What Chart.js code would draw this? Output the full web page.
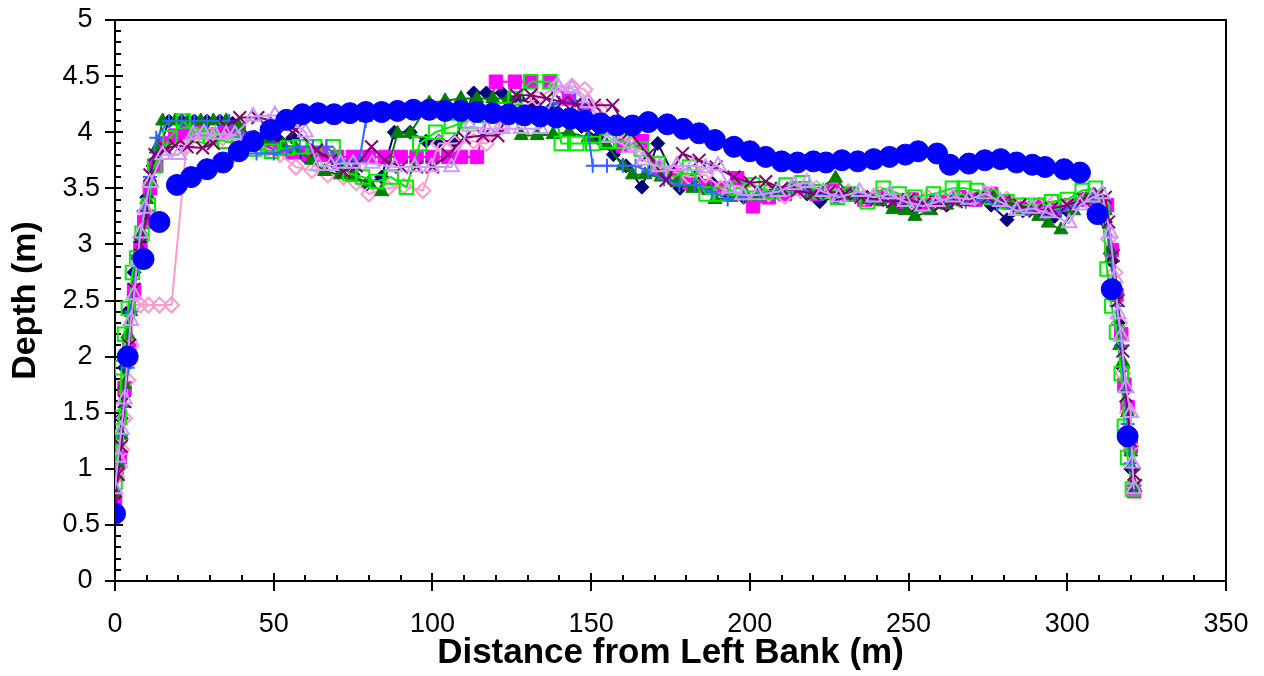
<!DOCTYPE html>
<html>
<head>
<meta charset="utf-8">
<title>Cross-section depth profiles</title>
<script src="https://cdn.jsdelivr.net/npm/chart.js@4.4.1/dist/chart.umd.min.js"></script>
<style>
  html, body { margin: 0; padding: 0; background: #fff; }
  #wrap { width: 1264px; height: 676px; position: relative; }
</style>
</head>
<body>
<div id="wrap"><canvas id="chart" width="1264" height="676"></canvas></div>
<script>
// Depth soundings across the channel: [distance from left bank (m), depth (m)]
const transect1 = [
  [0,0.75],[1,1.05],[2,1.45],[3,1.9],[4,2.4],[6,2.75],[8,3.02],[10,3.42],[12,3.7],[14,3.86],
  [17,4.1],[21,4.1],[25,4.1],[29,4.1],[33,4.1],[37,4.08],[42,3.92],[47,3.95],[52,3.92],[56,3.95],
  [60,3.78],[65,3.82],[70,3.7],[75,3.62],[79,3.53],[84,3.6],[88,4.0],[93,4.0],[98,3.92],[102,3.92],
  [107,3.92],[113,4.35],[117,4.35],[122,4.35],[127,4.3],[132,4.25],[137,4.2],[142,4.15],[147,4.05],[152,3.95],
  [157,3.8],[161,3.7],[166,3.51],[171,3.9],[178,3.5],[183,3.6],[188,3.55],[193,3.45],[198,3.42],[203,3.45],
  [208,3.48],[213,3.5],[218,3.45],[222,3.38],[227,3.42],[232,3.45],[237,3.42],[242,3.4],[247,3.35],[252,3.32],
  [257,3.38],[262,3.35],[266,3.42],[271,3.4],[276,3.35],[281,3.22],[286,3.3],[291,3.28],[296,3.25],[300,3.3],
  [305,3.4],[310,3.42],[312,3.2],[314,2.85],[316,2.3],[317.5,1.9],[319,1.5],[320,1.0],[321,0.82]
];
const transect2 = [
  [0,0.72],[0.5,0.95],[1.5,1.1],[3,1.72],[4.5,2.1],[6,2.59],[8,2.95],[9.2,3.2],[11,3.5],[13,3.7],
  [15,3.9],[19,3.97],[23,4.0],[27,4.0],[31,3.98],[35,4.0],[39,4.02],[44,3.9],[48,3.88],[52,3.85],
  [56,3.82],[61,3.8],[65,3.8],[70,3.78],[75,3.78],[80,3.78],[85,3.78],[90,3.78],[95,3.78],[100,3.78],
  [105,3.78],[109,3.78],[114,3.78],[120,4.45],[126,4.45],[131,4.45],[137,4.45],[143,4.3],[148,4.2],[154,4.05],
  [160,3.88],[166,3.92],[171,3.68],[176,3.62],[181,3.55],[186,3.52],[191,3.5],[196,3.59],[201,3.34],[206,3.42],
  [211,3.45],[216,3.5],[221,3.45],[226,3.48],[231,3.45],[236,3.4],[241,3.42],[246,3.38],[251,3.4],[256,3.35],
  [261,3.38],[266,3.42],[271,3.4],[276,3.45],[281,3.38],[286,3.32],[291,3.35],[296,3.32],[301,3.35],[306,3.4],
  [310,3.38],[312.5,3.35],[314,2.95],[315.5,2.55],[317,2.2],[318,1.75],[319,1.55],[320,1.2],[321,0.8]
];
const transect3 = [
  [0.5,0.93],[1.5,1.02],[2.1,1.17],[3,1.45],[4,1.79],[5,2.1],[6,2.46],[8,2.46],[10.5,2.46],[14,2.46],
  [17.8,2.46],[22.5,3.87],[25.7,3.97],[30,3.97],[34,3.95],[38,3.97],[43,3.9],[48,3.85],[52,3.8],[57,3.69],
  [62,3.66],[67,3.62],[72,3.6],[76,3.55],[80,3.45],[86,3.5],[91,3.52],[97,3.48],[102,3.9],[107,3.9],
  [113,3.92],[117,3.9],[122,4.05],[127,4.2],[133,4.3],[139,4.41],[144,4.41],[148,4.38],[153,4.2],[158,4.0],
  [162,3.9],[166,3.81],[171,3.72],[176,3.65],[181,3.6],[186,3.62],[191,3.5],[196,3.45],[201,3.48],[206,3.45],
  [211,3.43],[216,3.48],[221,3.5],[226,3.45],[231,3.47],[236,3.42],[241,3.45],[246,3.4],[251,3.38],[256,3.42],
  [261,3.4],[266,3.4],[271,3.42],[276,3.45],[281,3.4],[286,3.35],[291,3.35],[296,3.38],[301,3.35],[306,3.4],
  [311,3.38],[313,3.05],[315,2.75],[316.5,2.3],[317.5,1.85],[319,1.5],[320,1.2],[321,0.85]
];
const transect4 = [
  [0,0.78],[1,1.05],[2,1.3],[3,1.75],[4,2.2],[5,2.4],[7,2.9],[8.5,3.1],[10,3.4],[11.5,3.55],
  [13,3.85],[15,4.1],[19,4.1],[23,4.1],[27,4.1],[31,4.1],[35,4.1],[39,4.05],[44,3.95],[48,3.92],
  [53,3.88],[57,3.85],[62,3.75],[66,3.65],[71,3.62],[75,3.6],[80,3.55],[84,3.47],[89,3.99],[93,3.99],
  [99,4.26],[104,4.28],[109,4.3],[114,4.3],[119,4.3],[124,4.3],[128,3.97],[133,3.97],[138,3.98],[143,4.0],
  [149,3.95],[155,3.88],[160,3.7],[163,3.62],[167,3.62],[172,3.6],[177,3.55],[182,3.5],[187,3.48],[189,3.4],
  [194,3.42],[199,3.43],[203,3.43],[208,3.47],[213,3.5],[219,3.45],[227,3.59],[232,3.42],[237,3.4],[241,3.38],
  [245,3.31],[249,3.3],[252,3.25],[257,3.3],[262,3.35],[267,3.38],[272,3.42],[277,3.4],[282,3.35],[287,3.3],
  [291,3.25],[294,3.19],[298,3.13],[302,3.3],[306,3.4],[310,3.42],[312,3.3],[313.5,2.95],[315,2.55],[316.5,2.1],
  [317.5,1.95],[319,1.5],[320,1.15],[321,0.82]
];
const transect5 = [
  [0,0.88],[0.5,1.26],[1.4,1.46],[2.1,1.9],[3,2.2],[4.2,2.43],[5.5,2.75],[6.8,2.88],[8.5,3.1],[10.5,3.35],
  [12.5,3.7],[17.3,3.95],[21.5,4.1],[26,3.97],[30,3.96],[34.6,3.92],[39,3.9],[44,3.85],[49.3,3.83],[54.3,3.86],
  [58.2,3.87],[62.9,3.87],[68.7,3.87],[74,3.63],[78,3.6],[82.4,3.56],[87,3.6],[91.8,3.51],[96,3.9],[101,4.0],
  [106,4.05],[111,4.1],[116,4.15],[121,4.2],[126,4.3],[131,4.45],[137,4.45],[140.6,3.9],[145.5,3.9],[150.5,3.9],
  [155,3.92],[160,3.92],[165.8,3.85],[171,3.72],[176.3,3.6],[181,3.69],[186.2,3.45],[191,3.45],[196,3.5],[200.9,3.53],
  [206.7,3.47],[211.4,3.53],[216.6,3.55],[222,3.47],[227.6,3.42],[232,3.45],[237,3.38],[242,3.5],[247,3.45],[252,3.42],
  [257.8,3.45],[263.8,3.5],[267.5,3.5],[271.4,3.48],[276,3.42],[281,3.38],[286,3.35],[291,3.35],[295,3.38],[300,3.4],
  [304.7,3.48],[308.8,3.5],[311,3.3],[312.5,2.78],[314,2.45],[315.5,2.22],[317,1.85],[318,1.38],[319,1.1],[320.5,0.82]
];
const transect6 = [
  [0,0.8],[1,1.05],[2,1.3],[3,1.55],[4,1.9],[5,2.4],[7,2.9],[9,3.3],[11,3.6],[13,3.95],
  [17,4.1],[21,4.1],[25,4.1],[29,4.1],[33,4.1],[36,4.1],[40,3.95],[44.6,3.81],[50,3.81],[54,3.84],
  [58.2,3.87],[62.4,3.87],[66.6,3.87],[71,3.75],[75,3.73],[77,3.75],[79,4.1],[84,4.15],[89,4.18],[94,4.18],
  [99,4.18],[104,4.17],[109,4.16],[114,4.15],[119,4.15],[124,4.15],[129,4.18],[134,4.2],[140,4.26],[145,4.28],
  [148,4.2],[150.5,3.7],[155,3.7],[160,3.7],[164,3.7],[168,3.65],[173,3.58],[177.8,3.53],[182.6,3.53],[188,3.47],
  [193,3.4],[198,3.42],[203,3.45],[208,3.47],[213,3.5],[218,3.48],[223,3.45],[228,3.42],[233,3.45],[238,3.4],
  [243,3.42],[248,3.38],[253,3.35],[258,3.38],[263,3.4],[268,3.38],[273,3.4],[278,3.35],[283,3.32],[288,3.3],
  [293,3.28],[298,3.3],[303,3.35],[308,3.4],[312,3.3],[314,2.9],[315.5,2.45],[317,2.1],[318,1.7],[319,1.4],
  [320,1.05],[321,0.85]
];
const transect7 = [
  [0,0.7],[1,0.95],[2,1.2],[3,1.6],[4.5,2.1],[6,2.6],[8,3.0],[10,3.25],[11,3.62],[12.6,3.8],
  [16,3.85],[19,3.88],[22.7,3.87],[27.6,3.86],[31,3.9],[35,4.05],[39.3,4.13],[45,4.13],[50,4.1],[54,4.05],
  [57,4.02],[63.5,3.84],[68,3.75],[72,3.65],[76,3.7],[80.8,3.87],[85,3.75],[90.2,3.69],[95,3.69],[100,3.69],
  [105,3.8],[110,3.95],[115.9,3.97],[120.6,3.97],[126.4,4.33],[131,4.33],[136,4.3],[141,4.27],[145,4.25],[151,4.24],
  [156.8,4.24],[162,4.0],[168,3.8],[173.6,3.57],[178.8,3.81],[184,3.75],[189.4,3.69],[195,3.6],[200,3.55],[205,3.56],
  [210,3.5],[215,3.48],[220,3.45],[225,3.47],[230,3.45],[235,3.42],[240,3.4],[245,3.38],[250,3.4],[255,3.36],
  [260,3.35],[265,3.38],[270,3.4],[275,3.42],[280,3.38],[285,3.35],[290,3.3],[295,3.32],[300,3.35],[305,3.4],
  [310,3.45],[312,3.42],[313,3.2],[314.5,2.9],[316,2.5],[317.5,2.05],[318.5,1.65],[320,1.25],[321,0.95],[321.5,0.85]
];
const transect8 = [
  [0,0.82],[1,1.1],[2,1.35],[3,1.62],[4,2.0],[5,2.32],[6,2.55],[7,2.85],[8,3.1],[9.5,3.32],
  [11,3.55],[15,3.8],[20,3.8],[24.6,3.98],[28,3.99],[31.5,3.98],[35,3.98],[37.8,3.98],[43.5,4.14],[50.4,4.15],
  [55,4.1],[60,4.0],[64,3.7],[68,3.7],[71,3.72],[75,3.72],[81,3.72],[88.1,3.69],[94.4,3.69],[99.7,3.69],
  [106,3.69],[111.7,4.05],[117,4.03],[122,4.03],[128,4.03],[134,4.03],[139.5,4.41],[144,4.39],[149,4.26],[155.8,3.95],
  [162,3.86],[166.5,3.75],[171.5,3.69],[177,3.7],[182,3.7],[186,3.68],[190,3.7],[193.6,3.5],[197.7,3.44],[202.4,3.44],
  [208.8,3.47],[214,3.53],[218,3.55],[223,3.47],[228,3.42],[234.5,3.47],[239,3.42],[244,3.45],[249,3.38],[254.4,3.34],
  [259,3.38],[264,3.42],[269,3.4],[274,3.45],[279,3.38],[284,3.3],[289,3.32],[294,3.28],[300.6,3.19],[304,3.35],
  [308,3.42],[311,3.45],[313.5,3.1],[315,2.7],[316,2.38],[317,2.18],[318.5,1.72],[320,1.5],[320.5,1.05],[321,0.82]
];
// Reference bed profile
const bedProfile = [
  [0,0.6],[4,2.0],[9,2.87],[14,3.2],[19.5,3.53],[24,3.6],[29,3.67],[34,3.73],[39,3.83],[43.5,3.92],
  [49,4.02],[54,4.11],[59,4.16],[64,4.17],[69,4.16],[74,4.17],[79,4.18],[84,4.18],[89,4.19],[94,4.2],
  [99,4.2],[104,4.19],[109,4.19],[114,4.18],[119,4.17],[124,4.16],[129,4.15],[134,4.14],[139,4.13],[143.5,4.12],
  [148,4.1],[153,4.08],[158,4.06],[163,4.06],[168,4.09],[174,4.07],[179,4.03],[184,3.99],[189,3.93],[195,3.87],
  [200,3.83],[205,3.78],[210,3.74],[215,3.73],[220,3.74],[224,3.73],[229,3.75],[234,3.74],[239,3.76],[244,3.78],
  [249,3.8],[253,3.83],[259,3.81],[263,3.71],[269,3.72],[274,3.75],[279,3.76],[284,3.73],[289,3.71],[293,3.69],
  [299,3.67],[304,3.64],[309.5,3.27],[314,2.6],[319,1.29]
];

const xTicks = { min: 0, max: 350, major: 50, minor: 10 };
const yTicks = { min: 0, max: 5, major: 0.5, minor: 0.1 };

const toPoints = arr => arr.map(([x, y]) => ({ x, y }));

function series(label, data, color, style, radius, filled, order) {
  return {
    label,
    data: toPoints(data),
    showLine: true,
    borderColor: color,
    borderWidth: 2,
    pointStyle: style,
    pointRadius: radius,
    pointBorderColor: color,
    pointBackgroundColor: filled ? color : 'rgba(255,255,255,0)',
    pointBorderWidth: filled ? 1 : 2,
    order
  };
}

const datasets = [
  series('Transect 1', transect1, '#000080', 'rectRot', 7, true, 8),
  series('Transect 2', transect2, '#ff00ff', 'rect', 9.5, true, 7),
  series('Transect 3', transect3, '#ff99cc', 'rectRot', 7.5, false, 6),
  series('Transect 4', transect4, '#008000', 'triangle', 8, true, 5),
  series('Transect 5', transect5, '#00ee00', 'rect', 9.5, false, 4),
  series('Transect 6', transect6, '#3366ff', 'cross', 7, false, 3),
  series('Transect 7', transect7, '#800070', 'crossRot', 9, false, 2),
  series('Transect 8', transect8, '#cc99ff', 'triangle', 8.5, false, 1),
  {
    label: 'Bed profile',
    data: toPoints(bedProfile),
    showLine: false,
    pointStyle: 'circle',
    pointRadius: 10.5,
    pointBackgroundColor: '#0000ff',
    pointBorderColor: '#0000ff',
    pointBorderWidth: 1,
    order: 0
  }
];

// Plot frame with Excel-style major/minor tick marks
const frameTicks = {
  id: 'frameTicks',
  beforeDatasetsDraw(chart) {
    const { ctx, chartArea: a, scales: { x, y } } = chart;
    ctx.save();
    ctx.strokeStyle = '#000';
    ctx.lineWidth = 2;
    const seg = (x1, y1, x2, y2) => { ctx.beginPath(); ctx.moveTo(x1, y1); ctx.lineTo(x2, y2); ctx.stroke(); };
    const yMinorCount = Math.round((yTicks.max - yTicks.min) / yTicks.minor);
    const perMajorY = Math.round(yTicks.major / yTicks.minor);
    for (let i = 0; i <= yMinorCount; i++) {
      const py = Math.round(y.getPixelForValue(yTicks.min + i * yTicks.minor));
      if (i % perMajorY === 0) seg(a.left - 10, py, a.left + 8, py);
      else seg(a.left, py, a.left + 6, py);
    }
    const xMinorCount = Math.round((xTicks.max - xTicks.min) / xTicks.minor);
    const perMajorX = Math.round(xTicks.major / xTicks.minor);
    for (let i = 0; i <= xMinorCount; i++) {
      const px = Math.round(x.getPixelForValue(xTicks.min + i * xTicks.minor));
      if (i % perMajorX === 0) seg(px, a.bottom - 8, px, a.bottom + 10);
      else seg(px, a.bottom - 6, px, a.bottom);
    }
    ctx.strokeRect(a.left, a.top, a.right - a.left, a.bottom - a.top);
    ctx.restore();
  }
};

const labelFont = { family: "'Liberation Sans', Arial, sans-serif", size: 27 };
const titleFont = { family: "'Liberation Sans', Arial, sans-serif", weight: 'bold' };

new Chart(document.getElementById('chart'), {
  type: 'scatter',
  data: { datasets },
  plugins: [frameTicks],
  options: {
    responsive: false,
    animation: false,
    events: [],
    layout: { padding: { top: 20, right: 38, bottom: 0, left: 0 } },
    plugins: { legend: { display: false }, tooltip: { enabled: false } },
    scales: {
      x: {
        type: 'linear',
        min: xTicks.min,
        max: xTicks.max,
        grid: { display: false, drawTicks: false, tickLength: 0 },
        border: { display: false },
        ticks: {
          stepSize: xTicks.major,
          maxRotation: 0,
          autoSkip: false,
          padding: 27,
          color: '#000',
          font: labelFont,
          callback: v => String(v)
        },
        title: {
          display: true,
          text: 'Distance from Left Bank (m)',
          color: '#000',
          font: { ...titleFont, size: 35 },
          padding: { top: 0, bottom: 2 }
        },
        afterFit(scale) {
          scale.height = 95;
          scale.paddingLeft = 0;
          scale.paddingRight = 0;
        }
      },
      y: {
        type: 'linear',
        min: yTicks.min,
        max: yTicks.max,
        grid: { display: false, drawTicks: false, tickLength: 0 },
        border: { display: false },
        ticks: {
          stepSize: yTicks.major,
          autoSkip: false,
          padding: 15,
          color: '#000',
          font: labelFont,
          callback: v => Number.isInteger(v) ? String(v) + ' ' : String(v)
        },
        title: {
          display: true,
          text: 'Depth (m)',
          color: '#000',
          font: { ...titleFont, size: 34 },
          padding: { top: 5, bottom: 0 }
        },
        afterFit(scale) {
          scale.width = 115;
          scale.paddingTop = 0;
          scale.paddingBottom = 0;
        }
      }
    }
  }
});
</script>
</body>
</html>
